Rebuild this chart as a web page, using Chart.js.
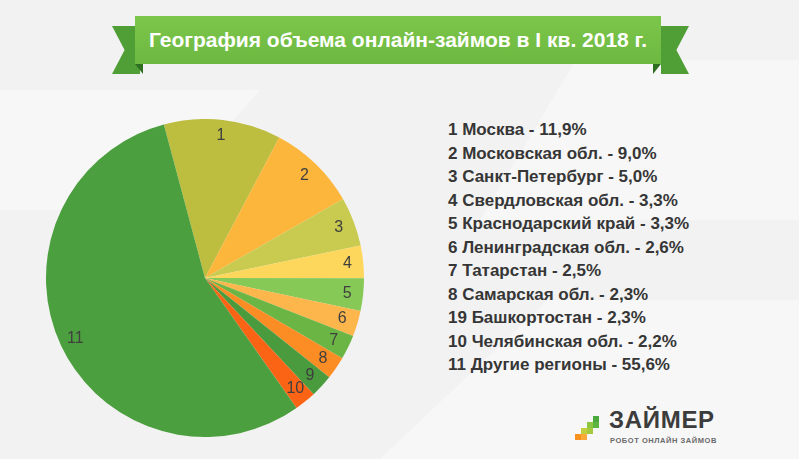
<!DOCTYPE html>
<html lang="ru">
<head>
<meta charset="utf-8">
<title>География объема онлайн-займов</title>
<script src="https://cdn.jsdelivr.net/npm/chart.js@4.4.1/dist/chart.umd.min.js"></script>
<style>
    html, body {
        margin: 0;
        padding: 0;
    }
    body {
        width: 799px;
        height: 459px;
        overflow: hidden;
        position: relative;
        font-family: "Liberation Sans", Arial, sans-serif;
        background: #f2f2f2;
    }
    .bg {
        position: absolute;
        background: #f7f7f7;
    }
    #banner-main {
        position: absolute;
        left: 135px;
        top: 16px;
        width: 526px;
        height: 48px;
        background: linear-gradient(#7cc64a, #6db841);
        color: #fff;
        font-weight: bold;
        font-size: 21px;
        line-height: 47px;
        text-align: center;
        z-index: 3;
    }
    .tail {
        position: absolute;
        top: 26px;
        width: 28px;
        height: 48px;
        background: #4f9e36;
        z-index: 1;
    }
    .fold {
        position: absolute;
        top: 64px;
        width: 8px;
        height: 10px;
        background: #2f6f22;
        z-index: 2;
    }
    #chart-box {
        position: absolute;
        left: 46px;
        top: 119px;
        width: 318px;
        height: 318px;
        z-index: 4;
    }
    #legend {
        position: absolute;
        left: 448px;
        top: 118px;
        color: #363636;
        font-weight: bold;
        font-size: 17px;
        line-height: 23.5px;
        z-index: 4;
    }
    .sq {
        position: absolute;
        width: 6px;
        height: 6px;
    }
    #logo-name {
        position: absolute;
        left: 609px;
        top: 406px;
        font-size: 24px;
        font-weight: bold;
        color: #3c3c3c;
        letter-spacing: 0.7px;
    }
    #logo-sub {
        position: absolute;
        left: 610px;
        top: 436px;
        font-size: 7.5px;
        font-weight: bold;
        color: #6a6a6a;
        letter-spacing: 0.55px;
    }
</style>
</head>
<body>
<script>
// данные с картинки
const sliceNumbers = ["1", "2", "3", "4", "5", "6", "7", "8", "9", "10", "11"];
const legendNumbers = ["1", "2", "3", "4", "5", "6", "7", "8", "19", "10", "11"];
const regions = ["Москва", "Московская обл.", "Санкт-Петербург", "Свердловская обл.", "Краснодарский край",
    "Ленинградская обл.", "Татарстан", "Самарская обл.", "Башкортостан", "Челябинская обл.", "Другие регионы"];
const shares = [11.9, 9.0, 5.0, 3.3, 3.3, 2.6, 2.5, 2.3, 2.3, 2.2, 55.6];
const sliceColors = ["#bdbd3f", "#fdb63c", "#c9cb50", "#fdd65c", "#86c956", "#fdb64c",
    "#6bb545", "#fb8d24", "#4a9a3e", "#fc6415", "#4c9f3e"];

function addBox(cls, left, top, width, height, color) {
    let d = document.createElement("div");
    d.className = cls;
    d.style.left = left + "px";
    d.style.top = top + "px";
    if (width) d.style.width = width + "px";
    if (height) d.style.height = height + "px";
    if (color) d.style.background = color;
    document.body.appendChild(d);
    return d;
}

function makeBackground() {
    // светлые плашки фона
    let a = addBox("bg", 0, 90, 260, 120);
    a.style.clipPath = "polygon(0 0, 100% 0, 60% 100%, 0 100%)";
    let b = addBox("bg", 480, 60, 320, 160);
    b.style.clipPath = "polygon(30% 0, 100% 0, 100% 100%, 0 100%)";
    let c = addBox("bg", 380, 300, 420, 159);
    c.style.clipPath = "polygon(40% 0, 100% 0, 100% 100%, 0 100%)";
}

function makeBanner() {
    let left = addBox("tail", 112, 26);
    left.style.clipPath = "polygon(0 0, 100% 0, 100% 100%, 0 100%, 45% 50%)";
    let right = addBox("tail", 661, 26);
    right.style.clipPath = "polygon(0 0, 100% 0, 55% 50%, 100% 100%, 0 100%)";

    let f1 = addBox("fold", 135, 64);
    f1.style.clipPath = "polygon(0 0, 100% 0, 100% 100%)";
    let f2 = addBox("fold", 653, 64);
    f2.style.clipPath = "polygon(0 0, 100% 0, 0 100%)";

    let title = document.createElement("div");
    title.id = "banner-main";
    title.textContent = "География объема онлайн-займов в I кв. 2018 г.";
    document.body.appendChild(title);
}

function makeLegend() {
    let legend = document.createElement("div");
    legend.id = "legend";
    for (let i = 0; i < regions.length; i++) {
        let row = document.createElement("div");
        row.textContent = legendNumbers[i] + " " + regions[i] + " - " + shares[i].toFixed(1).replace(".", ",") + "%";
        legend.appendChild(row);
    }
    document.body.appendChild(legend);
}

function makeLogo() {
    let squares = [
        [3, 0, "#4aa83c"],
        [2, 1, "#8dc641"], [3, 1, "#5fb441"],
        [1, 2, "#c3cf3f"], [2, 2, "#a4c93f"],
        [0, 3, "#f7921e"], [1, 3, "#fbaa3a"]
    ];
    squares.forEach(function (s) {
        addBox("sq", 575 + s[0] * 6, 416 + s[1] * 6, 6, 6, s[2]);
    });

    let name = document.createElement("div");
    name.id = "logo-name";
    name.textContent = "ЗАЙМЕР";
    document.body.appendChild(name);

    let sub = document.createElement("div");
    sub.id = "logo-sub";
    sub.textContent = "РОБОТ ОНЛАЙН ЗАЙМОВ";
    document.body.appendChild(sub);
}

// номера внутри секторов у края
const sliceLabels = {
    id: "sliceLabels",
    afterDatasetsDraw(chart) {
        let ctx = chart.ctx;
        let meta = chart.getDatasetMeta(0);
        ctx.save();
        ctx.fillStyle = "#3f3f3f";
        ctx.font = "16px 'Liberation Sans', Arial, sans-serif";
        ctx.textAlign = "center";
        ctx.textBaseline = "middle";
        meta.data.forEach(function (arc, i) {
            let mid = (arc.startAngle + arc.endAngle) / 2;
            let r = arc.outerRadius * 0.9;
            ctx.fillText(sliceNumbers[i], arc.x + Math.cos(mid) * r, arc.y + Math.sin(mid) * r);
        });
        ctx.restore();
    }
};

function makeChart() {
    let box = document.createElement("div");
    box.id = "chart-box";
    let graphic = document.createElement("canvas");
    box.appendChild(graphic);
    document.body.appendChild(box);

    new Chart(graphic.getContext("2d"), {
        type: "pie",
        data: {
            labels: regions,
            datasets: [{
                data: shares,
                backgroundColor: sliceColors,
                borderWidth: 0,
                hoverOffset: 0
            }]
        },
        options: {
            responsive: true,
            maintainAspectRatio: false,
            animation: false,
            rotation: -15,
            layout: { padding: 0 },
            plugins: {
                legend: { display: false },
                tooltip: { enabled: false }
            }
        },
        plugins: [sliceLabels]
    });
}

makeBackground();
makeBanner();
makeChart();
makeLegend();
makeLogo();
</script>
</body>
</html>
